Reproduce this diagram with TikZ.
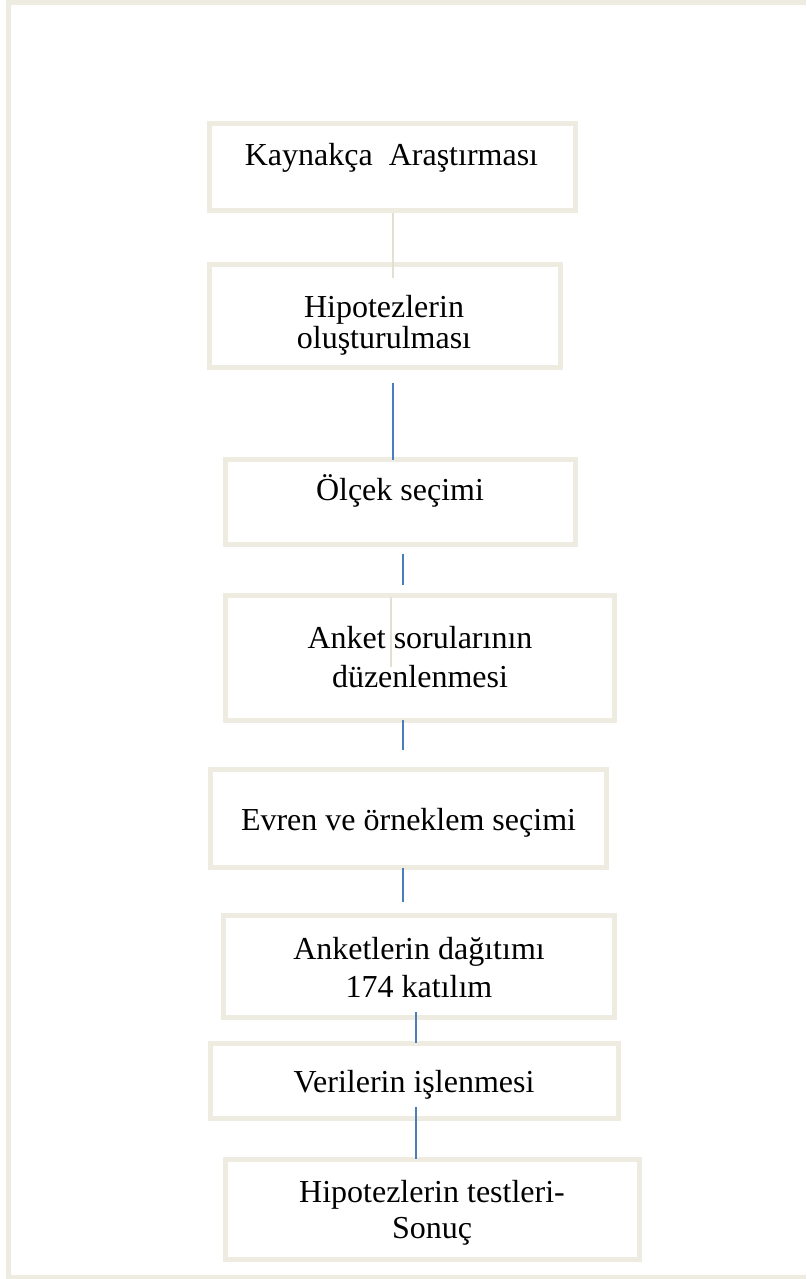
\documentclass[tikz,border=0pt]{standalone}
\usepackage{fontspec}
\setmainfont{Liberation Serif}
\definecolor{tan}{HTML}{EEECE1}
\definecolor{tanline}{HTML}{E4E0CF}
\definecolor{wblue}{HTML}{4A7EBB}
\tikzset{
  stepbox/.style={draw=tan, line width=5pt, rectangle, inner sep=0pt, fill=none},
  lbl/.style={anchor=base, align=center, inner sep=0pt, text=black},
  blueconn/.style={draw=wblue, line width=1.5pt},
  tanconn/.style={draw=tanline, line width=1.5pt},
}
\begin{document}
\begin{tikzpicture}[x=1pt,y=-1pt]
\useasboundingbox (0,0) rectangle (806,1279);
% outer frame
\draw[tan, line width=5pt] (806,2.5) -- (8.5,2.5) -- (8.5,1277) -- (806,1277);
% boxes
\node[stepbox, minimum width=366pt, minimum height=87pt]  (b1) at (392.5,167) {};
\node[stepbox, minimum width=351pt, minimum height=103pt] (b2) at (385,316) {};
\node[stepbox, minimum width=350pt, minimum height=85pt]  (b3) at (400.5,502) {};
\node[stepbox, minimum width=389pt, minimum height=125pt] (b4) at (420,658) {};
\node[stepbox, minimum width=396pt, minimum height=98pt]  (b5) at (408.5,818.5) {};
\node[stepbox, minimum width=391pt, minimum height=102pt] (b6) at (419,966.5) {};
\node[stepbox, minimum width=408pt, minimum height=75pt]  (b7) at (414.5,1081) {};
\node[stepbox, minimum width=414pt, minimum height=100pt] (b8) at (432.5,1209.5) {};
% texts (base anchor = baseline of the last line)
\node[lbl, font=\fontsize{32}{37}\selectfont] (t1) at (391.5,165) {Kaynakça\ \ Araştırması};
\node[lbl, font=\fontsize{32}{31}\selectfont] (t2) at (384,348) {Hipotezlerin\\oluşturulması};
\node[lbl, font=\fontsize{32}{37}\selectfont] (t3) at (400,500) {Ölçek seçimi};
\node[lbl, font=\fontsize{32}{39}\selectfont] (t4) at (420,687) {Anket sorularının\\düzenlenmesi};
\node[lbl, font=\fontsize{32}{37}\selectfont] (t5) at (408.5,830) {Evren ve örneklem seçimi};
\node[lbl, font=\fontsize{32}{38}\selectfont] (t6) at (419,997) {Anketlerin dağıtımı\\174 katılım};
\node[lbl, font=\fontsize{32}{37}\selectfont] (t7) at (414,1092) {Verilerin işlenmesi};
\node[lbl, font=\fontsize{32}{36}\selectfont] (t8) at (432,1238) {Hipotezlerin testleri-\\Sonuç};
% connector end points
\coordinate (c1a) at (393,213);  \coordinate (c1b) at (393,278);
\coordinate (c2a) at (393,383);  \coordinate (c2b) at (393,460);
\coordinate (c3a) at (403,554);  \coordinate (c3b) at (403,585);
\coordinate (c3c) at (391,597);  \coordinate (c3d) at (391,667);
\coordinate (c4a) at (403,720);  \coordinate (c4b) at (403,750);
\coordinate (c5a) at (403,868);  \coordinate (c5b) at (403,902);
\coordinate (c6a) at (416,1012); \coordinate (c6b) at (416,1043);
\coordinate (c7a) at (416,1107); \coordinate (c7b) at (416,1159);
% connectors
\draw[tanconn]  (c1a) -- (c1b);
\draw[blueconn] (c2a) -- (c2b);
\draw[blueconn] (c3a) -- (c3b);
\draw[tanconn]  (c3c) -- (c3d);
\draw[blueconn] (c4a) -- (c4b);
\draw[blueconn] (c5a) -- (c5b);
\draw[blueconn] (c6a) -- (c6b);
\draw[blueconn] (c7a) -- (c7b);
\end{tikzpicture}
\end{document}
